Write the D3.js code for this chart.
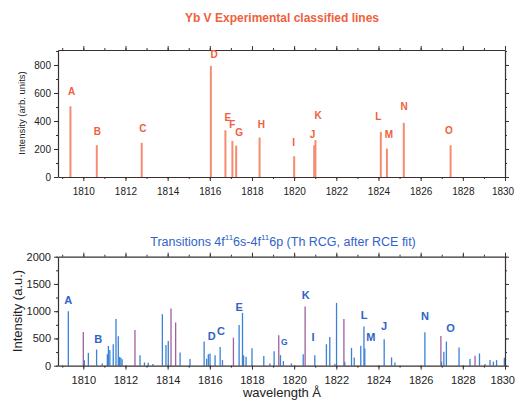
<!DOCTYPE html>
<html>
<head>
<meta charset="utf-8">
<script src="https://cdn.jsdelivr.net/npm/d3@7"></script>
<style>
  html, body { margin: 0; padding: 0; background: #fff; }
  svg { display: block; font-family: "Liberation Sans", Arial, sans-serif; }
  .axis path, .axis line { stroke: #3a3030; }
  .axis text { fill: #222; font-size: 10px; }
  .axis.big text { font-size: 11px; }
</style>
</head>
<body>
<svg id="chart" width="515" height="403"></svg>
<script>
// Yb V lines: experimental (top) vs. calculated transitions (bottom).

const lineLetters = ["A", "B", "C", "D", "E", "F", "G", "H", "I", "J", "K", "L", "M", "N", "O"];

// top panel: experimental classified lines
const expWave = [1809.39, 1810.64, 1812.77, 1816.05, 1816.74, 1817.07, 1817.25, 1818.36,
  1820.0, 1820.95, 1821.01, 1824.11, 1824.4, 1825.2, 1827.42];
const expIntensity = [505, 227, 244, 793, 334, 258, 224, 282, 148, 227, 263, 322, 203, 387, 227];
const expLabelWave = [1809.44, 1810.67, 1812.83, 1816.2, 1816.85, 1817.07, 1817.39, 1818.45,
  1819.97, 1820.87, 1821.14, 1823.99, 1824.5, 1825.22, 1827.34];
const expLabelLevel = [614, 327, 346, 872, 425, 377, 315, 377, 244, 306, 442, 430, 303, 501, 334];

// bottom panel: calculated transitions (blue set and the pinkish set)
const calcWave = [1809.29, 1810.05, 1810.24, 1810.63, 1810.9, 1811.14, 1811.19, 1811.26,
  1811.42, 1811.55, 1811.66, 1811.71, 1811.78, 1811.84, 1812.69, 1812.9, 1813.08, 1813.3,
  1813.75, 1813.92, 1814.03, 1814.59, 1815.06, 1815.73, 1815.85, 1815.93, 1816.01, 1816.25,
  1816.49, 1816.6, 1817.39, 1817.55, 1817.6, 1817.72, 1818.0, 1818.56, 1818.85, 1819.05,
  1819.35, 1819.49, 1819.87, 1820.43, 1820.98, 1821.53, 1821.69, 1821.93, 1822.01, 1822.4,
  1822.72, 1822.85, 1823.16, 1823.31, 1823.35, 1824.27, 1824.62, 1824.78, 1826.2, 1826.99,
  1827.1, 1827.22, 1827.82, 1828.34, 1828.79, 1829.05, 1829.29, 1829.45, 1829.6, 1829.97];
const calcIntensity = [1000, 100, 236, 297, 40, 212, 364, 290,
  394, 855, 540, 160, 150, 120, 194, 60, 55, 30,
  945, 382, 455, 242, 121, 442, 127, 212, 224, 194,
  345, 103, 745, 970, 190, 164, 320, 176, 42, 267,
  194, 85, 42, 212, 194, 394, 527, 30, 1152, 73,
  327, 152, 364, 721, 315, 485, 152, 60, 612, 73,
  255, 442, 333, 121, 224, 30, 103, 73, 103, 145];
const pinkWave = [1810.0, 1812.45, 1814.16, 1814.38, 1817.12, 1819.27, 1820.52, 1822.36,
  1826.96, 1828.58];
const pinkIntensity = [618, 655, 1048, 794, 515, 558, 1085, 855, 545, 182];
// F and H have no letter in the calc panel (level -1)
const calcLabelWave = [1809.29, 1810.71, 1816.53, 1816.09, 1817.39, 1812.0, 1819.53, 1812.0,
  1820.9, 1824.27, 1820.55, 1823.32, 1823.64, 1826.2, 1827.42];
const calcLabelLevel = [1206, 497, 630, 539, 1085, -1, 436, -1, 527, 721, 1303, 939, 527, 921, 691];

const xTicks = [1810, 1812, 1814, 1816, 1818, 1820, 1822, 1824, 1826, 1828, 1830];
const expYTicks = [0, 200, 400, 600, 800];
const calcYTicks = [0, 500, 1000, 1500, 2000];

const ORANGE_LINE = "#f58c70";
const ORANGE_TEXT = "#f0603e";
const BLUE_LINE = "#3a82d8";
const PINK_LINE = "#a0609c";
const BLUE_TEXT = "#2f63c8";

const svg = d3.select("#chart");

// ── shared frame drawing ────────────────────────────────────────────────

function drawFrame(x, y, yTicks, yMinorStep, cls) {
  const [x0, x1] = x.range();
  const [y0, y1] = y.range();   // y0 bottom, y1 top
  const xMinor = d3.range(1809, 1831, 1);
  const yMinor = d3.range(0, y.domain()[1] + 1, yMinorStep);
  const fmt = d3.format("d");

  // minor ticks first, no labels
  svg.append("g").attr("class", "axis").attr("transform", `translate(0,${y0})`)
    .call(d3.axisBottom(x).tickValues(xMinor).tickSize(2).tickFormat("")).select("path").remove();
  svg.append("g").attr("class", "axis").attr("transform", `translate(0,${y1})`)
    .call(d3.axisTop(x).tickValues(xMinor).tickSize(2).tickFormat("")).select("path").remove();
  svg.append("g").attr("class", "axis").attr("transform", `translate(${x0},0)`)
    .call(d3.axisLeft(y).tickValues(yMinor).tickSize(2).tickFormat("")).select("path").remove();
  svg.append("g").attr("class", "axis").attr("transform", `translate(${x1},0)`)
    .call(d3.axisRight(y).tickValues(yMinor).tickSize(2).tickFormat("")).select("path").remove();

  const bottom = svg.append("g").attr("class", "axis " + cls).attr("transform", `translate(0,${y0})`)
    .call(d3.axisBottom(x).tickValues(xTicks).tickSize(4).tickSizeOuter(0).tickFormat(fmt));
  bottom.selectAll("text").attr("dy", "1.05em");
  // last label sits on the page edge; pull it in a little
  bottom.selectAll("text").filter(d => d === xTicks[xTicks.length - 1]).attr("dx", "-0.25em");
  svg.append("g").attr("class", "axis").attr("transform", `translate(0,${y1})`)
    .call(d3.axisTop(x).tickValues(xTicks).tickSize(4).tickSizeOuter(0).tickFormat(""));
  svg.append("g").attr("class", "axis " + cls).attr("transform", `translate(${x0},0)`)
    .call(d3.axisLeft(y).tickValues(yTicks).tickSize(4).tickSizeOuter(0).tickFormat(fmt));
  svg.append("g").attr("class", "axis").attr("transform", `translate(${x1},0)`)
    .call(d3.axisRight(y).tickValues(yTicks).tickSize(4).tickSizeOuter(0).tickFormat(""));

  svg.selectAll(".axis path").attr("stroke-width", 1.2);
}

// ── top panel ───────────────────────────────────────────────────────────

const xTop = d3.scaleLinear().domain([1808.8, 1830]).range([58, 505]);
const yTop = d3.scaleLinear().domain([0, 907]).range([177, 50]);

svg.append("g").selectAll("line")
  .data(d3.zip(expWave, expIntensity))
  .join("line")
  .attr("x1", d => xTop(d[0])).attr("x2", d => xTop(d[0]))
  .attr("y1", yTop(0)).attr("y2", d => yTop(d[1]))
  .attr("stroke", ORANGE_LINE).attr("stroke-width", 2);

drawFrame(xTop, yTop, expYTicks, 100, "small");

svg.append("g").selectAll("text")
  .data(d3.zip(lineLetters, expLabelWave, expLabelLevel))
  .join("text")
  .attr("x", d => xTop(d[1])).attr("y", d => yTop(d[2]))
  .attr("text-anchor", "middle").attr("dominant-baseline", "central")
  .attr("font-size", 10).attr("font-weight", "bold")
  .attr("fill", ORANGE_TEXT)
  .text(d => d[0]);

svg.append("text")
  .attr("x", 282).attr("y", 22)
  .attr("text-anchor", "middle")
  .attr("font-size", 12).attr("font-weight", "bold")
  .attr("fill", ORANGE_TEXT)
  .text("Yb V Experimental classified lines");

svg.append("text")
  .attr("transform", "translate(25,113) rotate(-90)")
  .attr("text-anchor", "middle")
  .attr("font-size", 9.5)
  .attr("fill", "#222")
  .text("Intensity (arb. units)");

// ── bottom panel ────────────────────────────────────────────────────────

const xBot = d3.scaleLinear().domain([1808.8, 1830]).range([58, 505]);
const yBot = d3.scaleLinear().domain([0, 2000]).range([365.7, 256.7]);

function stickLines(waves, levels, color) {
  svg.append("g").selectAll("line")
    .data(d3.zip(waves, levels))
    .join("line")
    .attr("x1", d => xBot(d[0])).attr("x2", d => xBot(d[0]))
    .attr("y1", yBot(0)).attr("y2", d => yBot(d[1]))
    .attr("stroke", color).attr("stroke-width", 1.3);
}
stickLines(pinkWave, pinkIntensity, PINK_LINE);
stickLines(calcWave, calcIntensity, BLUE_LINE);

drawFrame(xBot, yBot, calcYTicks, 250, "big");

svg.append("g").selectAll("text")
  .data(d3.zip(lineLetters, calcLabelWave, calcLabelLevel).filter(d => d[2] >= 0))
  .join("text")
  .attr("x", d => xBot(d[1])).attr("y", d => yBot(d[2]))
  .attr("text-anchor", "middle").attr("dominant-baseline", "central")
  .attr("font-size", d => d[0] === "G" ? 8.5 : 11).attr("font-weight", "bold")
  .attr("fill", BLUE_TEXT)
  .text(d => d[0]);

const title = svg.append("text")
  .attr("x", 283).attr("y", 246)
  .attr("text-anchor", "middle")
  .attr("font-size", 12.5)
  .attr("fill", BLUE_TEXT);
title.append("tspan").text("Transitions 4f");
title.append("tspan").attr("dy", -6).attr("font-size", 8).text("11");
title.append("tspan").attr("dy", 6).text("6s-4f");
title.append("tspan").attr("dy", -6).attr("font-size", 8).text("11");
title.append("tspan").attr("dy", 6).text("6p (Th RCG, after RCE fit)");

svg.append("text")
  .attr("transform", "translate(22,311) rotate(-90)")
  .attr("text-anchor", "middle")
  .attr("font-size", 13)
  .attr("fill", "#222")
  .text("Intensity (a.u.)");

svg.append("text")
  .attr("x", 282).attr("y", 397)
  .attr("text-anchor", "middle")
  .attr("font-size", 13)
  .attr("fill", "#222")
  .text("wavelength Å");
</script>
</body>
</html>
